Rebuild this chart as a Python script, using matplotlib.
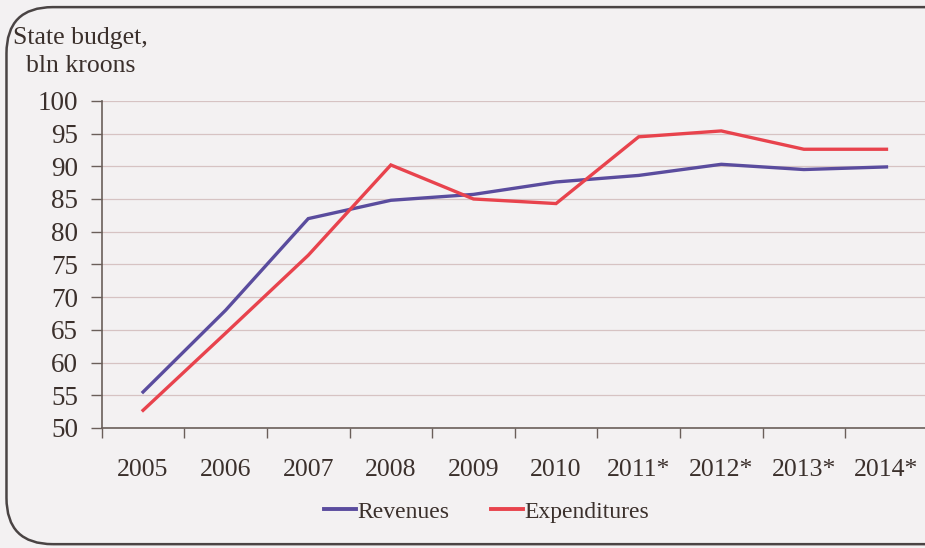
import matplotlib.pyplot as plt
from matplotlib.patches import FancyBboxPatch

years = ["2005", "2006", "2007", "2008", "2009", "2010", "2011*", "2012*", "2013*", "2014*"]
revenues = [55.5, 68.0, 82.0, 84.8, 85.7, 87.6, 88.6, 90.3, 89.5, 89.9]
expenditures = [52.7, 64.5, 76.4, 90.2, 85.0, 84.3, 94.5, 95.4, 92.6, 92.6]

plt.rcParams['font.family'] = ['Liberation Serif', 'DejaVu Serif']
txt = '#3b302c'
bg = '#f3f1f2'

fig = plt.figure(figsize=(9.25, 5.48), dpi=100, facecolor=bg)
ax = fig.add_axes([0.110, 0.219, 0.893, 0.597], facecolor=bg)

x = list(range(len(years)))
ax.plot(x, revenues, color='#5a4c9e', lw=2.4, label='Revenues', solid_joinstyle='miter')
ax.plot(x, expenditures, color='#e8434d', lw=2.4, label='Expenditures', solid_joinstyle='miter')

ax.set_ylim(50, 100)
ax.set_yticks(range(50, 101, 5))
ax.set_xlim(-0.5, len(years) - 0.5)
ax.set_xticks(x)
ax.set_xticklabels(years)
ax.set_xticks([i + 0.5 for i in range(-1, len(years))], minor=True)
ax.tick_params(axis='x', which='major', length=0, pad=22, labelsize=18.5, labelcolor=txt)
ax.tick_params(axis='x', which='minor', length=7, width=1, color='#6a5f5a', direction='out')
ax.tick_params(axis='y', length=8, width=1, color='#6a5f5a', labelsize=19.5, labelcolor=txt, pad=9)
ax.grid(axis='y', color='#d6c3c3', lw=0.9)
for s in ['top', 'right']:
    ax.spines[s].set_visible(False)
for s in ['left', 'bottom']:
    ax.spines[s].set_color('#6a5f5a')
    ax.spines[s].set_linewidth(1.2)

fig.text(0.087, 0.905, "State budget,\nbln kroons", ha='center', va='center',
         multialignment='center', fontsize=18.5, color=txt, linespacing=1.35)

leg = fig.legend(loc='center', bbox_to_anchor=(0.526, 0.066), ncol=2, frameon=False,
                 fontsize=17, handlelength=1.35, handletextpad=0.05, columnspacing=1.75)
for t in leg.get_texts():
    t.set_color(txt)
for h in leg.get_lines():
    h.set_linewidth(2.8)

frame = FancyBboxPatch((0.007, 0.007), 1.05, 0.98, boxstyle='round,pad=0,rounding_size=0.05',
                       transform=fig.transFigure, fill=False, ec='#4a4444', lw=1.8,
                       mutation_aspect=925 / 548)
fig.patches.append(frame)

fig.savefig('out.png', dpi=100, facecolor=bg)
